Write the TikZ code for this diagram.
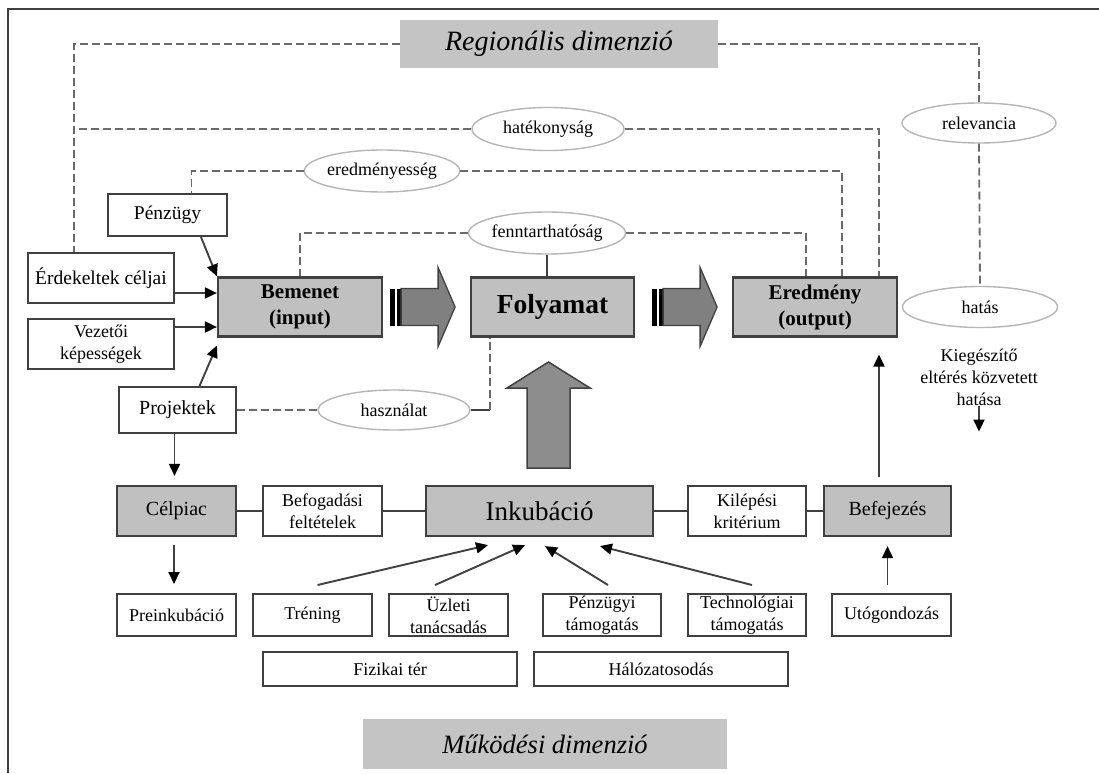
\documentclass[tikz,border=0pt]{standalone}
\usepackage{fontspec}
\setmainfont{Liberation Serif}
\usetikzlibrary{shapes.geometric,arrows.meta}
\definecolor{boxgray}{HTML}{C0C0C0}
\definecolor{dimgray}{HTML}{C4C4C4}
\definecolor{arrgray}{HTML}{808080}
\definecolor{edge}{HTML}{404040}
\definecolor{dashgray}{HTML}{6A6A6A}
\definecolor{ovalgray}{HTML}{B5B5B5}
\newcommand\sizeS{\fontsize{18}{22}\selectfont}
\newcommand\sizeM{\fontsize{20}{24}\selectfont}
\newcommand\sizeB{\fontsize{21}{26}\selectfont\bfseries}

\tikzset{
  wbox/.style={draw=edge, line width=2pt, fill=white, inner sep=0pt, align=center, font=\sizeS},
  gbox/.style={wbox, fill=boxgray, line width=2.2pt, font=\sizeM},
  oval/.style={ellipse, draw=ovalgray, line width=1.4pt, inner sep=0pt, font=\sizeS},
  dimbox/.style={fill=dimgray, inner sep=0pt, font=\fontsize{28}{30}\selectfont\itshape},
  dline/.style={draw=dashgray, line width=1.8pt, dash pattern=on 8pt off 4pt},
  sline/.style={draw=edge, line width=1.9pt},
  arr/.style={sline, -{Triangle[length=12pt,width=11pt,color=black]}},
}

\begin{document}
\begin{tikzpicture}[x=1pt,y=-1pt]
  \useasboundingbox (0,0) rectangle (1099,773);
  % keret
  \draw[edge, line width=2.4pt] (8,773) -- (8,9) -- (1099,9);

  % dimenziok
  \node[dimbox, minimum width=318pt, minimum height=48pt] (regio) at (559,44) {Regionális dimenzió};
  \node[dimbox, minimum width=364pt, minimum height=50pt, font=\fontsize{26.5}{30}\selectfont\itshape] (mukod) at (545,744) {Működési dimenzió};

  % bal oszlop
  \node[wbox, font=\fontsize{19.5}{23}\selectfont, minimum width=119pt, minimum height=42pt] (penz) at (167.5,215) {Pénzügy};
  \node[wbox, font=\fontsize{19.5}{23}\selectfont, minimum width=146pt, minimum height=50pt] (erdek) at (101,278) {Érdekeltek céljai};
  \node[wbox, minimum width=146pt, minimum height=50pt] (vezet) at (101,344) {Vezetői\\képességek};
  \node[wbox, font=\sizeM, minimum width=117pt, minimum height=46pt] (proj) at (177.5,410) {Projektek};

  % fo sor
  \node[gbox, font=\sizeB, minimum width=164pt, minimum height=59pt] (bemen) at (300,307) {Bemenet\\(input)};
  \node[gbox, font=\fontsize{27.5}{30}\selectfont\bfseries, minimum width=163pt, minimum height=59pt] (folya) at (552.5,307) {Folyamat};
  \node[gbox, font=\sizeB, minimum width=164pt, minimum height=59pt] (eredm) at (815,307) {Eredmény\\(output)};

  % inkubacios sor
  \node[gbox, minimum width=119pt, minimum height=50pt] (celp) at (176.5,511) {Célpiac};
  \node[wbox, minimum width=119pt, minimum height=50pt] (befog) at (322.5,511) {Befogadási\\feltételek};
  \node[gbox, font=\fontsize{27}{30}\selectfont, minimum width=227pt, minimum height=50pt] (inkub) at (539.5,511) {Inkubáció};
  \node[wbox, minimum width=118pt, minimum height=50pt] (kilep) at (747,511) {Kilépési\\kritérium};
  \node[gbox, minimum width=127pt, minimum height=50pt] (befej) at (887.5,511) {Befejezés};

  % szolgaltatasok
  \node[wbox, minimum width=119pt, minimum height=42pt] (prein) at (176.5,615) {Preinkubáció};
  \node[wbox, minimum width=119pt, minimum height=42pt] (trening) at (312.5,615) {Tréning};
  \node[wbox, minimum width=119pt, minimum height=42pt] (uzleti) at (448.5,615) {Üzleti\\tanácsadás};
  \node[wbox, minimum width=118pt, minimum height=42pt] (penztam) at (602,615) {Pénzügyi\\támogatás};
  \node[wbox, minimum width=118pt, minimum height=42pt] (techn) at (747,615) {Technológiai\\támogatás};
  \node[wbox, minimum width=119pt, minimum height=42pt] (utog) at (891.5,615) {Utógondozás};
  \node[wbox, minimum width=254pt, minimum height=34pt] (fizik) at (390,669) {Fizikai tér};
  \node[wbox, minimum width=254pt, minimum height=34pt] (halo) at (661,669) {Hálózatosodás};

  % ertekelesi szempontok
  \node[oval, minimum width=152pt, minimum height=43pt] (hatek) at (548,129) {hatékonyság};
  \node[oval, minimum width=148pt, minimum height=42pt] (eredmy) at (382,171) {eredményesség};
  \node[oval, minimum width=155pt, minimum height=42pt] (fennt) at (547,233) {fenntarthatóság};
  \node[oval, minimum width=154pt, minimum height=40pt] (relev) at (979,123) {relevancia};
  \node[oval, minimum width=155pt, minimum height=41pt] (hatas) at (980,307) {hatás};
  \node[oval, minimum width=152pt, minimum height=40pt] (haszn) at (394,410) {használat};
  \node[font=\sizeS, align=center, inner sep=0pt] (kieg) at (979,377) {Kiegészítő\\eltérés közvetett\\hatása};

  % szaggatott kapcsolatok
  \coordinate (lk) at ([xshift=-27pt]erdek.north);
  \draw[dline] (regio.west) -| (lk);
  \draw[dline] (hatek.west) -- (hatek.west -| lk);
  \draw[dline] (hatek.east) -| ([xshift=64pt]eredm.north);
  \draw[dline] (eredmy.west) -| ([xshift=24pt]penz.north);
  \draw[dline] (eredmy.east) -| ([xshift=27pt]eredm.north);
  \draw[dline] (fennt.west) -| (bemen.north);
  \draw[dline] (fennt.east) -| ([xshift=-9pt]eredm.north);
  \draw[sline] (fennt.south) -- (fennt.south |- folya.north);
  \draw[dline] (regio.east) -| (relev.north);
  \draw[dline] (relev.south) -- (hatas.north);
  \draw[dline] (proj.east) -- (haszn.west);
  \draw[sline, line width=1.5pt] (haszn.east) -- ++(19pt,0pt) coordinate (hz);
  \draw[dline] (hz) -- (hz |- folya.south);

  % csikos nyilak
  \foreach \n/\d in {bemen/7,folya/17}{
    \begin{scope}[shift={(\n.east)}, xshift=\d pt]
      \fill[black] (0,-18.5) rectangle (5,18.5);
      \fill[black] (7,-18.5) rectangle (11,18.5);
      \filldraw[fill=arrgray, draw=edge, line width=1.3pt] (11,-18.5) -- (48,-18.5) -- (48,-39.5) -- (65,0)
        -- (48,39.5) -- (48,18.5) -- (11,18.5) -- cycle;
    \end{scope}
  }
  \filldraw[fill=arrgray!90, draw=edge, line width=1.5pt] (527,468) -- (527,388) -- (507,388) -- (548.5,362)
    -- (590,388) -- (570,388) -- (570,468) -- cycle;

  % nyilak
  \draw[arr] ([xshift=-27pt]penz.south east) -- (bemen.north west);
  \draw[arr] ([yshift=-15pt]erdek.east) -- ([yshift=-15pt]erdek.east -| bemen.west);
  \draw[arr] ([yshift=17pt]vezet.east) -- ([yshift=17pt]vezet.east -| bemen.west);
  \draw[arr] ([xshift=22pt]proj.north) -- ([yshift=-8pt]bemen.south west);
  \draw[arr] ([xshift=-3pt]proj.south) -- ([xshift=-3pt,yshift=9pt]proj.south |- celp.north);
  \draw[arr] ([xshift=-2.5pt,yshift=-8pt]celp.south) -- ([xshift=-2.5pt,yshift=9pt]prein.north);
  \foreach \a/\b in {celp/befog,befog/inkub,inkub/kilep,kilep/befej}
    \draw[sline] (\a) -- (\b);
  \draw[arr] ([xshift=5pt,yshift=8pt]trening.north) -- ([xshift=-51.5pt,yshift=-8pt]inkub.south);
  \draw[arr] ([xshift=-13.5pt,yshift=8pt]uzleti.north) -- ([xshift=-14.5pt,yshift=-8pt]inkub.south);
  \draw[arr] ([xshift=6pt,yshift=8pt]penztam.north) -- ([xshift=5.5pt,yshift=-9pt]inkub.south);
  \draw[arr] ([xshift=5pt,yshift=8pt]techn.north) -- ([xshift=60.5pt,yshift=-9pt]inkub.south);
  \draw[arr] ([xshift=-4pt,yshift=8pt]utog.north) -- ([yshift=-9pt]befej.south);
  \draw[arr] ([xshift=-8.5pt,yshift=8pt]befej.north) -- ([xshift=64pt,yshift=-17pt]eredm.south);
  \draw[arr] (kieg.south) -- ++(0pt,-26pt);
\end{tikzpicture}
\end{document}
